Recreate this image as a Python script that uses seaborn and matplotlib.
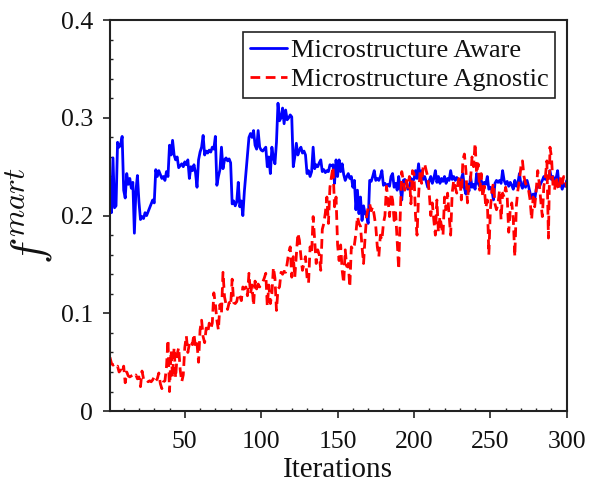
import numpy as np
import pandas as pd
import matplotlib
matplotlib.use("Agg")
import matplotlib.pyplot as plt
from matplotlib.ticker import MultipleLocator
import seaborn as sns

series_names = ["Microstructure Aware", "Microstructure Agnostic"]

aware = [
    0.213, 0.203, 0.259, 0.208, 0.210, 0.275, 0.270, 0.273, 0.281, 0.226,
    0.218, 0.243, 0.232, 0.238, 0.228, 0.234, 0.182, 0.225, 0.241, 0.214,
    0.196, 0.199, 0.197, 0.203, 0.200, 0.204, 0.208, 0.212, 0.216, 0.213,
    0.247, 0.240, 0.246, 0.242, 0.238, 0.240, 0.236, 0.245, 0.240, 0.272,
    0.262, 0.277, 0.262, 0.257, 0.260, 0.249, 0.251, 0.253, 0.250, 0.255,
    0.252, 0.257, 0.238, 0.250, 0.246, 0.252, 0.244, 0.229, 0.257, 0.265,
    0.270, 0.282, 0.262, 0.266, 0.264, 0.267, 0.265, 0.270, 0.268, 0.281,
    0.231, 0.240, 0.247, 0.270, 0.248, 0.257, 0.259, 0.256, 0.258, 0.254,
    0.212, 0.215, 0.210, 0.214, 0.234, 0.209, 0.215, 0.200, 0.225, 0.243,
    0.262, 0.280, 0.284, 0.280, 0.287, 0.272, 0.268, 0.287, 0.270, 0.267,
    0.266, 0.268, 0.270, 0.250, 0.260, 0.243, 0.270, 0.259, 0.253, 0.275,
    0.315, 0.297, 0.300, 0.310, 0.294, 0.308, 0.298, 0.300, 0.303, 0.301,
    0.250, 0.260, 0.274, 0.262, 0.267, 0.270, 0.264, 0.266, 0.262, 0.243,
    0.246, 0.240, 0.245, 0.270, 0.248, 0.252, 0.250, 0.254, 0.257, 0.245,
    0.247, 0.244, 0.246, 0.245, 0.252, 0.251, 0.252, 0.233, 0.257, 0.240,
    0.257, 0.245, 0.253, 0.242, 0.236, 0.240, 0.243, 0.238, 0.240, 0.229,
    0.236, 0.206, 0.226, 0.202, 0.219, 0.195, 0.210, 0.202, 0.200, 0.192,
    0.236, 0.235, 0.240, 0.246, 0.236, 0.238, 0.236, 0.240, 0.246, 0.231,
    0.233, 0.230, 0.232, 0.230, 0.240, 0.243, 0.229, 0.233, 0.226, 0.240,
    0.229, 0.216, 0.236, 0.237, 0.233, 0.227, 0.228, 0.238, 0.236, 0.237,
    0.246, 0.238, 0.253, 0.238, 0.246, 0.237, 0.240, 0.235, 0.229, 0.236,
    0.240, 0.233, 0.238, 0.246, 0.234, 0.240, 0.233, 0.238, 0.235, 0.240,
    0.233, 0.238, 0.236, 0.246, 0.237, 0.240, 0.236, 0.239, 0.236, 0.233,
    0.238, 0.243, 0.228, 0.222, 0.232, 0.225, 0.240, 0.229, 0.232, 0.227,
    0.243, 0.233, 0.230, 0.236, 0.231, 0.234, 0.232, 0.240, 0.227, 0.229,
    0.226, 0.216, 0.233, 0.236, 0.234, 0.236, 0.233, 0.246, 0.236, 0.232,
    0.235, 0.230, 0.234, 0.231, 0.227, 0.236, 0.230, 0.233, 0.243, 0.232,
    0.228, 0.235, 0.229, 0.236, 0.230, 0.223, 0.218, 0.222, 0.216, 0.227,
    0.232, 0.229, 0.233, 0.236, 0.240, 0.237, 0.240, 0.238, 0.246, 0.237,
    0.240, 0.236, 0.238, 0.246, 0.230, 0.233, 0.227, 0.232, 0.230, 0.236,
]

agnostic = [
    0.055, 0.049, 0.047, 0.048, 0.045, 0.046, 0.040, 0.042, 0.039, 0.046,
    0.029, 0.040, 0.036, 0.035, 0.036, 0.037, 0.035, 0.037, 0.033, 0.035,
    0.025, 0.041, 0.033, 0.034, 0.032, 0.030, 0.031, 0.030, 0.032, 0.035,
    0.031, 0.033, 0.039, 0.028, 0.023, 0.030, 0.031, 0.045, 0.073, 0.020,
    0.062, 0.034, 0.065, 0.034, 0.058, 0.065, 0.042, 0.030, 0.037, 0.065,
    0.077, 0.060, 0.069, 0.072, 0.068, 0.079, 0.065, 0.069, 0.050, 0.083,
    0.093, 0.076, 0.070, 0.085, 0.080, 0.090, 0.084, 0.090, 0.121, 0.110,
    0.093, 0.083, 0.109, 0.100, 0.142, 0.117, 0.109, 0.104, 0.111, 0.108,
    0.135, 0.111, 0.110, 0.112, 0.120, 0.118, 0.113, 0.127, 0.125, 0.127,
    0.118, 0.141, 0.120, 0.129, 0.108, 0.133, 0.125, 0.130, 0.127, 0.130,
    0.132, 0.136, 0.141, 0.107, 0.129, 0.110, 0.120, 0.147, 0.136, 0.103,
    0.125, 0.127, 0.142, 0.140, 0.143, 0.142, 0.151, 0.162, 0.168, 0.137,
    0.158, 0.137, 0.160, 0.182, 0.175, 0.158, 0.144, 0.151, 0.158, 0.137,
    0.131, 0.168, 0.161, 0.199, 0.175, 0.151, 0.165, 0.160, 0.144, 0.186,
    0.192, 0.203, 0.219, 0.192, 0.229, 0.240, 0.250, 0.209, 0.219, 0.170,
    0.154, 0.170, 0.144, 0.131, 0.165, 0.148, 0.151, 0.127, 0.168, 0.165,
    0.170, 0.182, 0.199, 0.192, 0.189, 0.168, 0.151, 0.178, 0.199, 0.209,
    0.212, 0.205, 0.209, 0.200, 0.189, 0.168, 0.158, 0.180, 0.175, 0.192,
    0.200, 0.230, 0.216, 0.199, 0.223, 0.216, 0.195, 0.203, 0.174, 0.145,
    0.200, 0.245, 0.236, 0.226, 0.236, 0.229, 0.240, 0.212, 0.246, 0.243,
    0.200, 0.180, 0.220, 0.246, 0.233, 0.250, 0.253, 0.246, 0.240, 0.223,
    0.200, 0.213, 0.195, 0.180, 0.216, 0.183, 0.199, 0.189, 0.180, 0.219,
    0.206, 0.223, 0.200, 0.180, 0.223, 0.236, 0.229, 0.223, 0.236, 0.240,
    0.216, 0.257, 0.263, 0.246, 0.213, 0.236, 0.236, 0.260, 0.250, 0.274,
    0.243, 0.253, 0.226, 0.243, 0.219, 0.230, 0.208, 0.216, 0.160, 0.206,
    0.226, 0.233, 0.212, 0.206, 0.212, 0.226, 0.196, 0.223, 0.219, 0.229,
    0.220, 0.183, 0.206, 0.213, 0.196, 0.158, 0.210, 0.226, 0.236, 0.250,
    0.256, 0.240, 0.233, 0.230, 0.226, 0.216, 0.196, 0.219, 0.209, 0.226,
    0.246, 0.233, 0.215, 0.199, 0.230, 0.240, 0.256, 0.177, 0.270, 0.260,
    0.230, 0.226, 0.240, 0.230, 0.226, 0.240, 0.233, 0.240, 0.236, 0.229,
]

iterations = list(range(1, len(aware) + 1))
x_ticks = [50, 100, 150, 200, 250, 300]
y_ticks = [0, 0.1, 0.2, 0.3, 0.4]
y_tick_labels = ["0", "0.1", "0.2", "0.3", "0.4"]

df = pd.DataFrame({
    "Iterations": iterations * 2,
    "value": aware + agnostic,
    "series": [series_names[0]] * len(aware) + [series_names[1]] * len(agnostic),
})

sns.set_theme(style="white")
plt.rcParams["font.family"] = ["Liberation Serif", "DejaVu Serif"]
plt.rcParams["mathtext.fontset"] = "cm"

fig = plt.figure(figsize=(5.91, 4.90), dpi=100)
ax = fig.add_axes([0.186, 0.161, 0.773, 0.798])

sns.lineplot(
    data=df, x="Iterations", y="value", hue="series", style="series",
    palette={series_names[0]: "#0000ff", series_names[1]: "#ff0000"},
    dashes={series_names[0]: "", series_names[1]: (3.5, 2)},
    linewidth=2.0, ax=ax, legend=True,
)

ax.set_xlim(1, 300)
ax.set_ylim(0, 0.4)
ax.set_xticks(x_ticks)
ax.set_yticks(y_ticks)
ax.set_yticklabels(y_tick_labels)
ax.xaxis.set_minor_locator(MultipleLocator(10))
ax.yaxis.set_minor_locator(MultipleLocator(0.02))
ax.tick_params(which="major", direction="out", length=5, width=1.2, colors="#222222",
               labelsize=18.5, labelcolor="#111111", pad=7)
ax.tick_params(axis="x", which="major", pad=9)
ax.tick_params(which="minor", direction="in", length=2.5, width=1.0, colors="#222222")
ax.tick_params(bottom=True, left=True, top=False, right=False, which="both")

for s in ax.spines.values():
    s.set_visible(True)
    s.set_color("#222222")
    s.set_linewidth(1.5)

ax.set_xlabel("Iterations", fontsize=21, color="#111111", labelpad=3)
ax.set_ylabel(r"$f^{mart}$", fontsize=32, color="#111111", labelpad=4)

handles, labels = ax.get_legend_handles_labels()
leg = ax.legend(handles, labels, loc="upper right", bbox_to_anchor=(0.974, 0.969),
                borderaxespad=0, frameon=True, fancybox=False, framealpha=1,
                edgecolor="#222222", fontsize=19, handlelength=1.4,
                handletextpad=0.15, borderpad=0.25, labelspacing=0.2)
leg.get_frame().set_linewidth(1.2)
for t in leg.get_texts():
    t.set_color("#111111")

fig.savefig("out.png", dpi=100)
